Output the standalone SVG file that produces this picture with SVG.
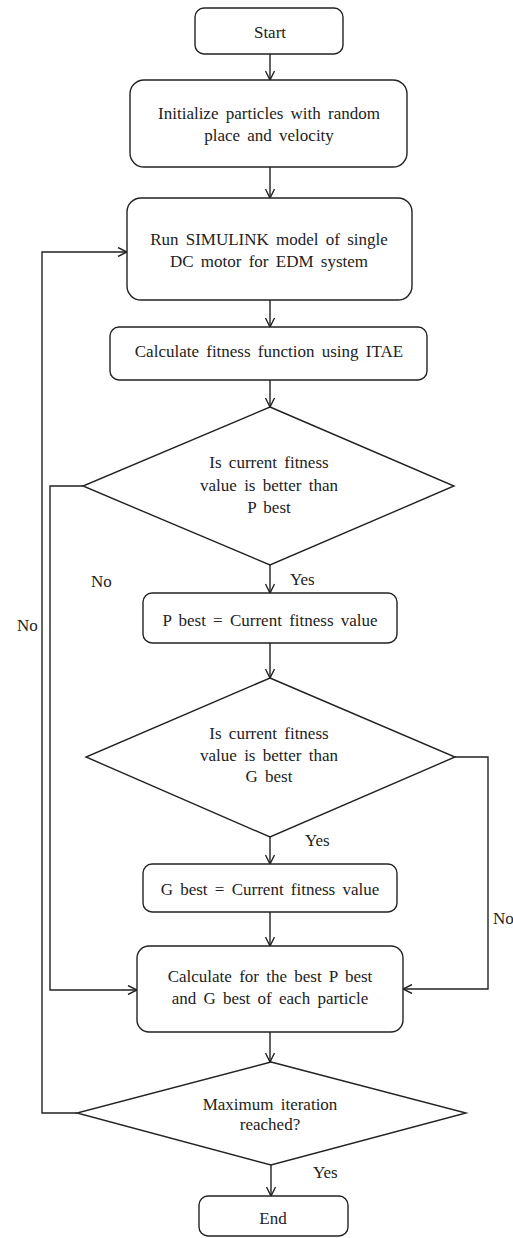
<svg xmlns="http://www.w3.org/2000/svg" width="513" height="1238" viewBox="0 0 513 1238">
<style>
.box{fill:#fff;stroke:#222;stroke-width:1.4}
.ln{fill:none;stroke:#222;stroke-width:1.4}
text{font-family:"Liberation Serif","Times New Roman",serif;font-size:17px;fill:#222;text-anchor:middle;word-spacing:3px}
.lbl{text-anchor:start}
</style>
<defs>
<marker id="ah" viewBox="0 0 10 10" refX="10" refY="5" markerWidth="10" markerHeight="10" markerUnits="userSpaceOnUse" orient="auto">
<path d="M1,0.5 L10,5 L1,9.5" fill="none" stroke="#222" stroke-width="1.4"/>
</marker>
</defs>
<rect width="513" height="1238" fill="#fff"/>
<g id="connectors">
<path class="ln" d="M270,54 V80" marker-end="url(#ah)"/>
<path class="ln" d="M270,167 V198" marker-end="url(#ah)"/>
<path class="ln" d="M270,300 V327" marker-end="url(#ah)"/>
<path class="ln" d="M270,380 V407" marker-end="url(#ah)"/>
<path class="ln" d="M270,565 V593" marker-end="url(#ah)"/>
<path class="ln" d="M270,643 V678" marker-end="url(#ah)"/>
<path class="ln" d="M270,837 V864" marker-end="url(#ah)"/>
<path class="ln" d="M270,912 V946" marker-end="url(#ah)"/>
<path class="ln" d="M270,1032 V1062" marker-end="url(#ah)"/>
<path class="ln" d="M271,1165 V1196" marker-end="url(#ah)"/>
<path class="ln" d="M83,486 H50 V990 H137" marker-end="url(#ah)"/>
<path class="ln" d="M455,757 H488 V989 H403" marker-end="url(#ah)"/>
<path class="ln" d="M77,1113 H42 V252 H127" marker-end="url(#ah)"/>
<text class="lbl" x="290" y="585">Yes</text>
<text class="lbl" x="91" y="587">No</text>
<text class="lbl" x="17" y="631">No</text>
<text class="lbl" x="305" y="846">Yes</text>
<text class="lbl" x="493" y="924">No</text>
<text class="lbl" x="313" y="1178">Yes</text>
</g>
<g id="start">
<rect class="box" x="195" y="8" width="148" height="46" rx="9"/>
<text x="270" y="38">Start</text>
</g>
<g id="init">
<rect class="box" x="130" y="80" width="277" height="87" rx="14"/>
<text x="269" y="119">Initialize particles with random</text>
<text x="269" y="141">place and velocity</text>
</g>
<g id="run">
<rect class="box" x="127" y="198" width="285" height="102" rx="14"/>
<text x="269" y="245">Run SIMULINK model of single</text>
<text x="269" y="267">DC motor for EDM system</text>
</g>
<g id="fitness">
<rect class="box" x="110" y="327" width="317" height="53" rx="9"/>
<text x="269" y="357">Calculate fitness function using ITAE</text>
</g>
<g id="dec1">
<polygon class="box" points="270,407 454,486 270,565 83,486"/>
<text x="269" y="468">Is current fitness</text>
<text x="269" y="491">value is better than</text>
<text x="269" y="513">P best</text>
</g>
<g id="pbest">
<rect class="box" x="143" y="593" width="254" height="50" rx="9"/>
<text x="270" y="626">P best = Current fitness value</text>
</g>
<g id="dec2">
<polygon class="box" points="270,678 455,757 270,837 86,757"/>
<text x="269" y="739">Is current fitness</text>
<text x="269" y="761">value is better than</text>
<text x="269" y="782">G best</text>
</g>
<g id="gbest">
<rect class="box" x="143" y="864" width="254" height="48" rx="9"/>
<text x="270" y="895">G best = Current fitness value</text>
</g>
<g id="calcbest">
<rect class="box" x="137" y="946" width="266" height="86" rx="12"/>
<text x="270" y="982">Calculate for the best P best</text>
<text x="270" y="1004">and G best of each particle</text>
</g>
<g id="dec3">
<polygon class="box" points="271,1062 466,1113 271,1165 77,1113"/>
<text x="270" y="1110">Maximum iteration</text>
<text x="270" y="1130">reached?</text>
</g>
<g id="end">
<rect class="box" x="199" y="1196" width="149" height="40" rx="9"/>
<text x="273" y="1224">End</text>
</g>
</svg>
